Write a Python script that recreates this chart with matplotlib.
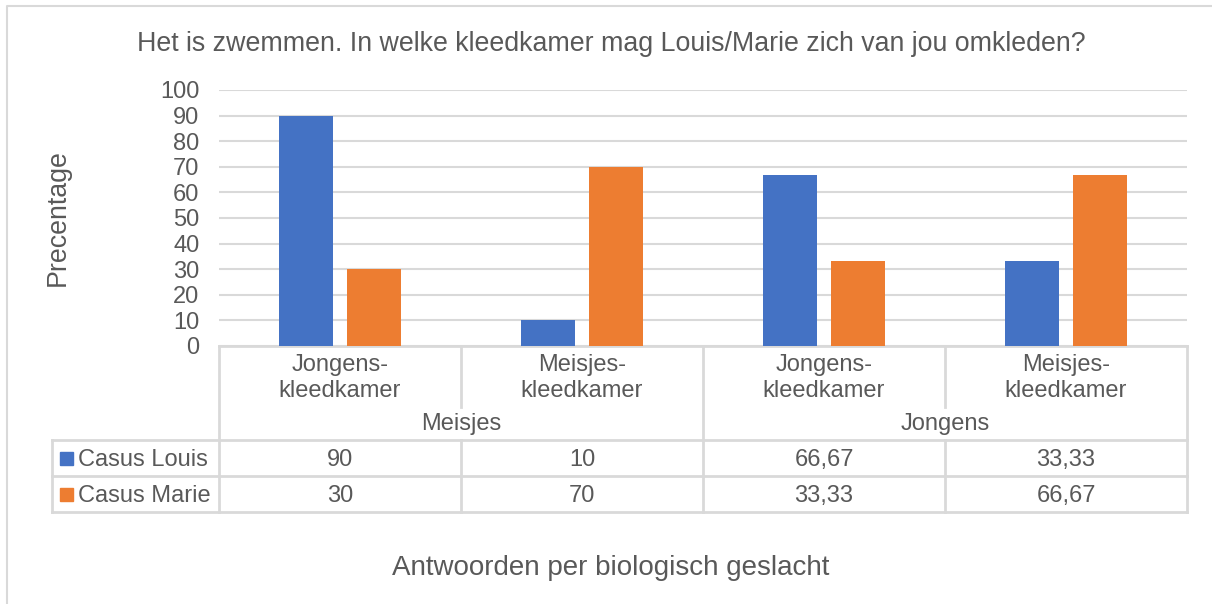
import matplotlib.pyplot as plt
import numpy as np

# data
groups = ["Meisjes", "Jongens"]
categories = ["Jongens-\nkleedkamer", "Meisjes-\nkleedkamer", "Jongens-\nkleedkamer", "Meisjes-\nkleedkamer"]
series_names = ["Casus Louis", "Casus Marie"]
louis = [90, 10, 66.67, 33.33]
marie = [30, 70, 33.33, 66.67]
yticks = [0, 10, 20, 30, 40, 50, 60, 70, 80, 90, 100]

colors = ["#4472C4", "#ED7D31"]
txt = "#595959"
grid = "#D9D9D9"
W, H = 1212, 604
fs = 17
fs_title = 19.3

plt.rcParams["font.family"] = ["Liberation Sans", "DejaVu Sans"]

fig = plt.figure(figsize=(W / 100, H / 100), dpi=100)

# overlay in pixel coords for table, titles, frame
ov = fig.add_axes([0, 0, 1, 1])
ov.set_xlim(0, W)
ov.set_ylim(H, 0)
ov.axis("off")

# plot area
x0, x1, ytop, ybot = 219, 1187, 90, 346
ax = fig.add_axes([x0 / W, 1 - ybot / H, (x1 - x0) / W, (ybot - ytop) / H])
ax.set_xlim(0, len(categories))
ax.set_ylim(0, 100)
ax.set_yticks(yticks)
ax.set_yticklabels([str(t) for t in yticks], fontsize=fs, color=txt)
ax.tick_params(axis="y", length=0, pad=14)
ax.set_xticks([])
ax.grid(axis="y", color=grid, linewidth=1.5)
ax.set_axisbelow(True)
for s in ax.spines.values():
    s.set_visible(False)
ax.patch.set_alpha(0)

x = np.arange(len(categories)) + 0.5
bw = 0.223
ax.bar(x - 0.142, louis, bw, color=colors[0], zorder=3)
ax.bar(x + 0.142, marie, bw, color=colors[1], zorder=3)

# titles
ov.text(611, 44, "Het is zwemmen. In welke kleedkamer mag Louis/Marie zich van jou omkleden?",
        fontsize=fs_title, color=txt, ha="center", va="center")
ov.text(611, 568, "Antwoorden per biologisch geslacht", fontsize=20, color=txt,
        ha="center", va="center")
ov.text(58, 218, "Precentage", fontsize=fs_title, color=txt, ha="center", va="center", rotation=90)

# chart frame
ov.plot([7, 7, W + 5], [H + 5, 6, 6], color=grid, lw=1.5)

# data table
lw = 2
colw = (x1 - x0) / len(categories)
xs = [x0 + i * colw for i in range(len(categories) + 1)]
r_top, r_grp, r1, r2, r3 = 346, 407, 440, 476, 512
ov.plot([x0, x1], [r_top, r_top], color=grid, lw=lw)
for yy in [r1, r2, r3]:
    ov.plot([52, x1], [yy, yy], color=grid, lw=lw)
ov.plot([52, 52], [r1, r3], color=grid, lw=lw)
for i, xx in enumerate(xs):
    if i % 2 == 0:
        ov.plot([xx, xx], [r_top, r3], color=grid, lw=lw)
    else:
        ov.plot([xx, xx], [r_top, r_grp], color=grid, lw=lw)
        ov.plot([xx, xx], [r1, r3], color=grid, lw=lw)

for i, c in enumerate(categories):
    ov.text(xs[i] + colw / 2, 378, c, fontsize=fs, color=txt, ha="center", va="center",
            linespacing=1.22)
for g, name in enumerate(groups):
    ov.text(xs[2 * g + 1], 424, name, fontsize=fs, color=txt, ha="center", va="center")


def fmt(v):
    return ("%g" % v).replace(".", ",")


for k, (name, vals) in enumerate(zip(series_names, [louis, marie])):
    yc = (r1 + r2) / 2 if k == 0 else (r2 + r3) / 2
    ov.add_patch(plt.Rectangle((60, yc - 6.5), 13, 13, color=colors[k]))
    ov.text(78, yc + 2, name, fontsize=fs, color=txt, ha="left", va="center")
    for i, v in enumerate(vals):
        ov.text(xs[i] + colw / 2, yc + 2, fmt(v), fontsize=fs, color=txt, ha="center", va="center")

fig.savefig("out.png", dpi=100)
